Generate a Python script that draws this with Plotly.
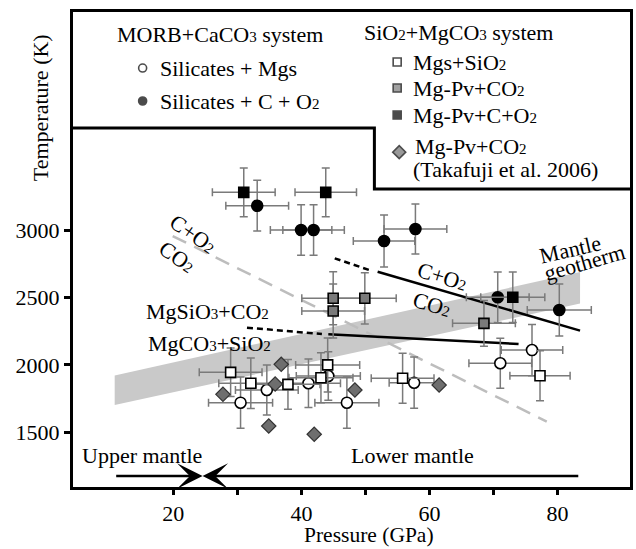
import plotly.graph_objects as go

FONT = "Liberation Serif"

# ---------------- data ----------------
# Silicates + Mgs (open circles)
oc_x = [30.5, 34.6, 41.1, 44.2, 47.1, 57.6, 71.05, 76.0]
oc_y = [1720, 1814, 1864, 1918, 1720, 1868, 2012, 2110]
oc_xe = [5.0, 4.9, 5.0, 5.0, 5.0, 3.9, 4.9, 4.8]
oc_ye = [190, 185, 180, 180, 190, 190, 185, 190]

# Silicates + C + O2 (filled circles)
fc_x = [33.1, 39.95, 41.9, 52.9, 57.8, 70.65, 80.26]
fc_y = [3180, 3000, 3000, 2918, 3007, 2501, 2407]
fc_xe = [4.9, 4.8, 4.8, 4.8, 4.9, 4.9, 5.0]
fc_ye = [188, 188, 188, 193, 185, 187, 193]

# Mgs+SiO2 (open squares)
os_x = [28.95, 32.1, 37.9, 43.05, 44.1, 55.8, 77.25]
os_y = [1945, 1864, 1856, 1905, 2000, 1901, 1920]
os_xe = [4.9, 5.0, 5.0, 5.0, 5.0, 4.9, 4.7]
os_ye = [180, 188, 185, 185, 200, 185, 185]

# Mg-Pv+CO2 (gray squares)
gs_x = [44.96, 44.96, 49.9, 68.5]
gs_y = [2494, 2400, 2494, 2308]
gs_xe = [4.9, 4.9, 4.9, 4.9]
gs_ye = [197, 200, 190, 170]

# Mg-Pv+C+O2 (black squares)
bs_x = [31.0, 43.8, 73.0]
bs_y = [3279, 3279, 2501]
bs_xe = [4.9, 4.8, 5.0]
bs_ye = [180, 180, 187]

# Mg-Pv+CO2 (Takafuji et al. 2006) diamonds
dm_x = [27.75, 34.9, 35.9, 36.85, 42.0, 48.35, 61.5]
dm_y = [1782, 1547, 1858, 2004, 1486, 1814, 1851]

# Mantle geotherm band
band_x = [10.85, 83.5]
band_lo = [1703, 2455]
band_hi = [1922, 2688]

# boundary lines
gray_x = [19.9, 78.3]
gray_y = [2955, 1580]
co2_dash_x = [45.2, 50.6]
co2_dash_y = [2790, 2703]
co2_x = [51.9, 83.5]
co2_y = [2691, 2254]
mg_dash_x = [31.5, 43.2]
mg_dash_y = [2276, 2229]
mg_x = [44.2, 73.9]
mg_y = [2227, 2155]

# upper / lower mantle arrows
arrow_y = 1176
upper_start = 10.85
lower_start = 83.46
boundary_p = 24.57

x_ticks = [20, 30, 40, 50, 60, 70, 80]
x_ticktext = ["20", "", "40", "", "60", "", "80"]
y_ticks = [1500, 2000, 2500, 3000]

ERR = "#7a7a7a"
def sub(t):
    return "<span style='font-size:15px'>" + t + "</span>"

fig = go.Figure()

# band
fig.add_trace(go.Scatter(
    x=band_x + band_x[::-1], y=band_lo + band_hi[::-1],
    fill="toself", fillcolor="#c9c9c9", line=dict(width=0),
    mode="lines", hoverinfo="skip", showlegend=False))

# lines
fig.add_trace(go.Scatter(x=gray_x, y=gray_y, mode="lines",
    line=dict(color="#bdbdbd", width=2.5, dash="15px,9px"), showlegend=False))
fig.add_trace(go.Scatter(x=co2_dash_x, y=co2_dash_y, mode="lines",
    line=dict(color="black", width=2.5, dash="6px,4px"), showlegend=False))
fig.add_trace(go.Scatter(x=co2_x, y=co2_y, mode="lines",
    line=dict(color="black", width=2.5), showlegend=False))
fig.add_trace(go.Scatter(x=mg_dash_x, y=mg_dash_y, mode="lines",
    line=dict(color="black", width=2.5, dash="6px,4px"), showlegend=False))
fig.add_trace(go.Scatter(x=mg_x, y=mg_y, mode="lines",
    line=dict(color="black", width=2.5), showlegend=False))

def pts(x, y, xe, ye, symbol, fill, size=11):
    fig.add_trace(go.Scatter(
        x=x, y=y, mode="markers", showlegend=False,
        error_x=dict(type="data", array=xe, color=ERR, thickness=1.5, width=4),
        error_y=dict(type="data", array=ye, color=ERR, thickness=1.5, width=4),
        marker=dict(symbol=symbol, size=size, color=fill,
                    line=dict(color="black", width=1.6))))

pts(oc_x, oc_y, oc_xe, oc_ye, "circle", "white")
pts(fc_x, fc_y, fc_xe, fc_ye, "circle", "black")
pts(os_x, os_y, os_xe, os_ye, "square", "white", 10)
pts(gs_x, gs_y, gs_xe, gs_ye, "square", "#7a7a7a", 10)
pts(bs_x, bs_y, bs_xe, bs_ye, "square", "black", 10)
fig.add_trace(go.Scatter(x=dm_x, y=dm_y, mode="markers", showlegend=False,
    marker=dict(symbol="diamond", size=11, color="#6e6e6e",
                line=dict(color="#333333", width=1.2))))

# legend keys (overlay axes in 0..1 box units)
key_x = [0.125, 0.125, 0.582, 0.582, 0.582, 0.5857]
key_y = [0.882, 0.8126, 0.8947, 0.84, 0.783, 0.705]
key_sym = ["circle", "circle", "square", "square", "square", "diamond"]
key_col = ["white", "black", "white", "#7a7a7a", "black", "#6e6e6e"]
key_size = [8, 8, 8, 8, 8, 10]
fig.add_trace(go.Scatter(x=key_x, y=key_y, xaxis="x2", yaxis="y2",
    mode="markers", showlegend=False, cliponaxis=False,
    marker=dict(symbol=key_sym, size=key_size, color=key_col,
                line=dict(color="black", width=1.6))))

ann = []
def txt(x, y, t, xref="x", yref="y", angle=0, anchor="center", size=22, yanchor="middle"):
    ann.append(dict(x=x, y=y, xref=xref, yref=yref, text=t, showarrow=False,
                    textangle=angle, xanchor=anchor, yanchor=yanchor,
                    font=dict(family=FONT, size=size, color="black")))

# legend texts (paper)
txt(0.075, 0.9516, "MORB+CaCO" + sub("3") + " system", "paper", "paper", anchor="left")
txt(0.1518, 0.882, "Silicates + Mgs", "paper", "paper", anchor="left")
txt(0.1518, 0.8126, "Silicates + C + O" + sub("2"), "paper", "paper", anchor="left")
txt(0.5196, 0.9558, "SiO" + sub("2") + "+MgCO" + sub("3") + " system", "paper", "paper", anchor="left")
txt(0.6071, 0.8947, "Mgs+SiO" + sub("2"), "paper", "paper", anchor="left")
txt(0.6071, 0.84, "Mg-Pv+CO" + sub("2"), "paper", "paper", anchor="left")
txt(0.6071, 0.783, "Mg-Pv+C+O" + sub("2"), "paper", "paper", anchor="left")
txt(0.6107, 0.7158, "Mg-Pv+CO" + sub("2"), "paper", "paper", anchor="left")
txt(0.6071, 0.6674, "(Takafuji et al. 2006)", "paper", "paper", anchor="left")

# in-plot labels
txt(62.0, 2654, "C+O" + sub("2"), angle=17)
txt(60.4, 2450, "CO" + sub("2"), angle=17)
txt(23.0, 2975, "C+O" + sub("2"), angle=35)
txt(20.5, 2802, "CO" + sub("2"), angle=35)
txt(25.3, 2394, "MgSiO" + sub("3") + "+CO" + sub("2"))
txt(25.6, 2160, "MgCO" + sub("3") + "+SiO" + sub("2"))
txt(81.9, 2859, "Mantle", angle=-13)
txt(84.2, 2759, "geotherm", angle=-16)
txt(15.1, 1332, "Upper mantle")
txt(57.4, 1332, "Lower mantle")

# axis titles
txt(0.531, -0.1305, "Pressure (GPa)", "paper", "paper", yanchor="bottom", size=21.5)
txt(-0.057, 0.798, "Temperature (K)", "paper", "paper", angle=-90)

# arrows
for start in (upper_start, lower_start):
    ann.append(dict(x=boundary_p, y=arrow_y, ax=start, ay=arrow_y,
                    xref="x", yref="y", axref="x", ayref="y", text="",
                    showarrow=True, arrowhead=3, arrowsize=1.7,
                    arrowwidth=2.5, arrowcolor="black"))

fig.update_layout(
    width=636, height=549,
    margin=dict(l=73, r=3, t=12, b=62),
    plot_bgcolor="white", paper_bgcolor="white",
    font=dict(family=FONT, size=22, color="black"),
    annotations=ann,
    shapes=[dict(type="path", xref="paper", yref="paper",
                 path="M 0,0.7558 L 0.5411,0.7558 L 0.5411,0.6274 L 1,0.6274",
                 line=dict(color="black", width=3))],
    xaxis=dict(range=[4.34, 91.3], tickvals=x_ticks, ticktext=x_ticktext,
               ticks="outside", ticklen=5, tickwidth=2.5, tickcolor="black",
               showline=True, linewidth=3, linecolor="black", mirror=True,
               showgrid=False, zeroline=False,
               tickfont=dict(family=FONT, size=22)),
    yaxis=dict(range=[1095, 4616], tickvals=y_ticks,
               ticks="outside", ticklen=6, tickwidth=2.5, tickcolor="black",
               showline=True, linewidth=3, linecolor="black", mirror=True,
               showgrid=False, zeroline=False,
               tickfont=dict(family=FONT, size=22)),
    xaxis2=dict(overlaying="x", range=[0, 1], visible=False),
    yaxis2=dict(overlaying="y", range=[0, 1], visible=False),
)

fig.write_html("out.html", config={"displayModeBar": False},
               post_script="document.body.style.margin='0';document.body.style.overflow='hidden';")
